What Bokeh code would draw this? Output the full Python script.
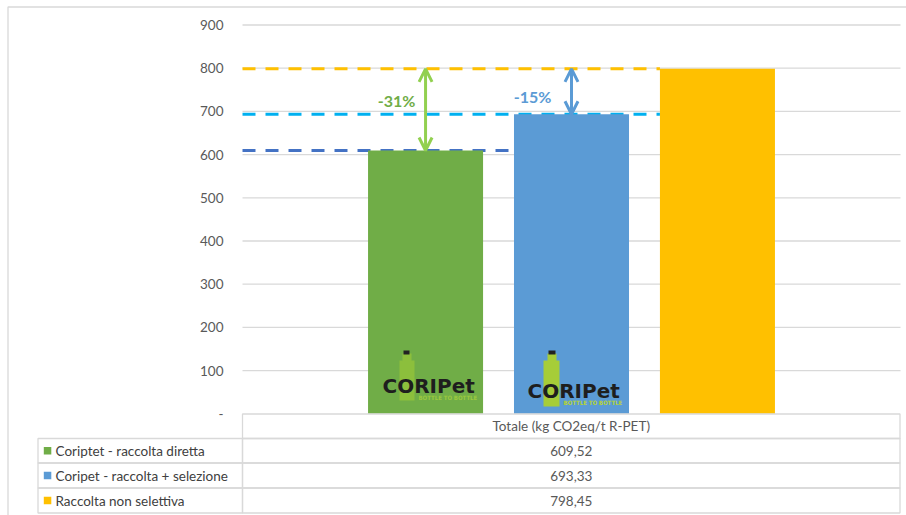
from bokeh.plotting import figure
from bokeh.models import Range1d, Arrow, OpenHead
from bokeh.core.properties import value
from bokeh.embed import file_html
from bokeh.resources import INLINE

# ---------------- data ----------------
series_names = ["Coriptet - raccolta diretta",
                "Coripet - raccolta + selezione",
                "Raccolta non selettiva"]
series_values = [609.52, 693.33, 798.45]
series_colors = ["#70AD47", "#5B9BD5", "#FFC000"]
category_label = "Totale (kg CO2eq/t R-PET)"
y_ticks = [0, 100, 200, 300, 400, 500, 600, 700, 800, 900]
y_tick_labels = ["-", "100", "200", "300", "400", "500", "600", "700", "800", "900"]
ref_line_colors = ["#4472C4", "#00B0F0", "#FFC000"]
delta_labels = ["-31%", "-15%"]
delta_label_colors = ["#70AD47", "#5B9BD5"]
arrow_colors = ["#92D050", "#5B9BD5"]
logo_text = "CORIPet"
logo_tagline = "BOTTLE TO BOTTLE"

# ---------------- layout constants ----------------
W, H = 906, 515
PLOT_L, PLOT_R, PLOT_B = 242, 900, 413.3
PX_PER_UNIT = 0.432
PW = PLOT_R - PLOT_L


def dx(px):
    """pixel column -> x data (category spans 0..1)"""
    return (px - PLOT_L) / PW


def dy(py):
    """pixel row -> y data (value units)"""
    return (PLOT_B - py) / PX_PER_UNIT


GRID = "#D9D9D9"
TXT = "#595959"
FONT = "Lato"

p = figure(width=W, height=H, x_range=Range1d(dx(0), dx(W)), y_range=Range1d(dy(H), dy(0)),
           min_border=0, x_axis_location=None, y_axis_location=None,
           toolbar_location=None, output_backend="svg",
           outline_line_color=None, background_fill_color="white",
           border_fill_color="white")
p.grid.visible = False

# chart-area border (left and top edges visible)
p.quad(left=[dx(7.5)], right=[dx(W + 20)], top=[dy(6.5)], bottom=[dy(H + 20)],
       fill_alpha=0, line_color=GRID, line_width=1.3)

# value axis: grid lines + tick labels
p.segment(x0=[0] * (len(y_ticks) - 1), x1=[1] * (len(y_ticks) - 1),
          y0=y_ticks[1:], y1=y_ticks[1:], line_color=GRID, line_width=1.3)
p.text(x=[0] * len(y_ticks), y=y_ticks, text=y_tick_labels, x_offset=-19,
       text_font=value(FONT), text_font_size="13.5px", text_color=TXT,
       text_align="right", text_baseline="middle")

# bars
n = len(series_values)
gap = 0.2218
bw = 0.1748
centers = [0.5 + (i - (n - 1) / 2) * gap for i in range(n)]
lefts = [c - bw / 2 for c in centers]

# dashed reference lines (under bars)
ends = [lefts[min(i + 1, n - 1)] for i in range(n)]
p.segment(x0=[0] * n, y0=series_values, x1=ends, y1=series_values,
          line_color=ref_line_colors, line_width=3, line_dash="13 10")

p.vbar(x=centers, width=bw, top=series_values, bottom=0,
       fill_color=series_colors, line_color=None)

# arrows
for i in range(2):
    col = arrow_colors[i]
    p.add_layout(Arrow(x_start=centers[i], y_start=series_values[i],
                       x_end=centers[i], y_end=series_values[-1],
                       line_color=col, line_width=3,
                       start=OpenHead(size=13, line_color=col, line_width=3),
                       end=OpenHead(size=13, line_color=col, line_width=3)))

# delta labels
p.text(x=centers[:2], y=[dy(100), dy(96)], text=delta_labels,
       x_offset=[-29, -39], text_color=delta_label_colors,
       text_font=value(FONT), text_font_style="bold", text_font_size="16px",
       text_align="center", text_baseline="middle")

# logos (approximation of the CORIPET image)
logo_specs = [
    dict(bottle=(399, 414, 360, 400), neck=(402, 411, 353, 361), cap=(403, 409, 350, 354),
         bottle_color="#8CBF3C", text_left=382, baseline=385, tag_left=418, tag_y=397,
         tag_color="#9CC93E"),
    dict(bottle=(543, 559, 360, 406), neck=(547, 556, 353, 361), cap=(548, 555, 350, 354),
         bottle_color="#A6CD38", text_left=527, baseline=390, tag_left=563, tag_y=402,
         tag_color="#B5D334"),
]
for s in logo_specs:
    for (l, r, t, b), col in [(s["bottle"], s["bottle_color"]), (s["neck"], s["bottle_color"]),
                              (s["cap"], "#222222")]:
        p.quad(left=[dx(l)], right=[dx(r)], top=[dy(t)], bottom=[dy(b)],
               fill_color=col, line_color=None)
    p.text(x=[dx(s["text_left"])], y=[dy(s["baseline"])], text=[logo_text],
           text_font=value("DejaVu Sans"), text_font_style="bold", text_font_size="20px",
           text_color="#1E1E1E", text_align="left", text_baseline="alphabetic")
    p.text(x=[dx(s["tag_left"])], y=[dy(s["tag_y"])], text=[logo_tagline],
           text_font=value("DejaVu Sans Condensed"), text_font_style="bold",
           text_font_size="6px", text_color=s["tag_color"],
           text_align="left", text_baseline="middle")

# ---------------- data table ----------------
row_edges = [413.5, 438, 462.5, 487.5, 512.5]
tbl_left, tbl_mid, tbl_right = 37.5, 242, 899.5
cells_l, cells_r, cells_t, cells_b = [dx(tbl_mid)], [dx(tbl_right)], [dy(row_edges[0])], [dy(row_edges[1])]
for i in range(n):
    for l, r in [(tbl_left, tbl_mid), (tbl_mid, tbl_right)]:
        cells_l.append(dx(l)); cells_r.append(dx(r))
        cells_t.append(dy(row_edges[i + 1])); cells_b.append(dy(row_edges[i + 2]))
p.quad(left=cells_l, right=cells_r, top=cells_t, bottom=cells_b,
       fill_alpha=0, line_color=GRID, line_width=1.3)

mids = [(row_edges[i + 1] + row_edges[i + 2]) / 2 for i in range(n)]
col_center = dx((tbl_mid + tbl_right) / 2)
p.text(x=[col_center], y=[dy((row_edges[0] + row_edges[1]) / 2)], text=[category_label],
       text_font=value(FONT), text_font_size="13.5px", text_color=TXT,
       text_align="center", text_baseline="middle")
# legend keys
p.quad(left=[dx(43.3)] * n, right=[dx(50.8)] * n,
       top=[dy(m - 3.8) for m in mids], bottom=[dy(m + 3.8) for m in mids],
       fill_color=series_colors, line_color=None)
p.text(x=[dx(55)] * n, y=[dy(m) for m in mids], text=series_names,
       text_font=value(FONT), text_font_size="13.5px", text_color="#404040",
       text_align="left", text_baseline="middle")
p.text(x=[col_center] * n, y=[dy(m) for m in mids],
       text=[f"{v:.2f}".replace(".", ",") for v in series_values],
       text_font=value(FONT), text_font_size="13.5px", text_color=TXT,
       text_align="center", text_baseline="middle")

open("out.html", "w").write(file_html(p, INLINE))
